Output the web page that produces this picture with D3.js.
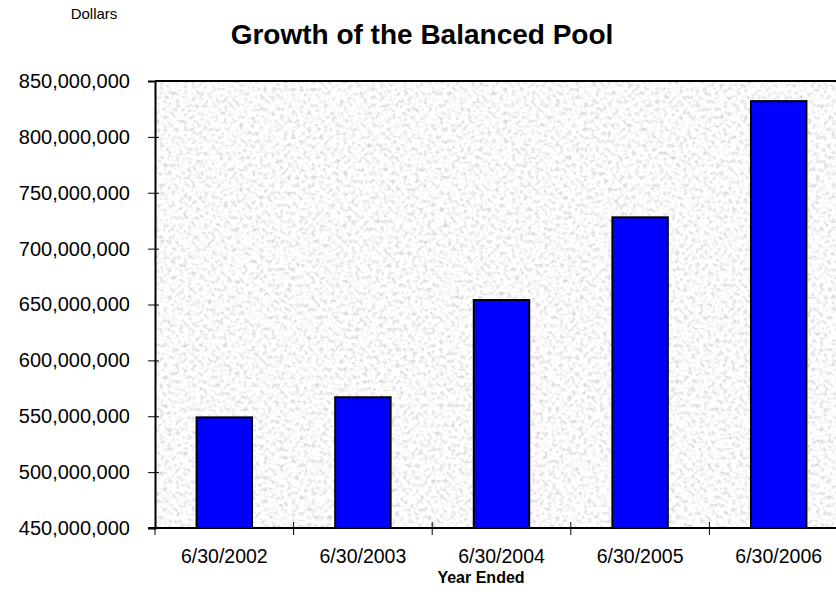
<!DOCTYPE html>
<html>
<head>
<meta charset="utf-8">
<script src="https://d3js.org/d3.v7.min.js"></script>
<style>
  body { margin: 0; background: #fff; }
  svg { display: block; font-family: Arial, "Liberation Sans", sans-serif; }
</style>
</head>
<body>
<script>
// values
const years = ['6/30/2002', '6/30/2003', '6/30/2004', '6/30/2005', '6/30/2006'];
const poolValues = [549000000, 567000000, 654000000, 728000000, 832000000];
const yTicks = [450000000, 500000000, 550000000, 600000000, 650000000, 700000000, 750000000, 800000000, 850000000];

const config = {
  width: 836,
  height: 604,
  plot: { left: 155, top: 81, right: 848, bottom: 528 },
};

function main() {
  const svg = d3.select('body').append('svg')
    .attr('width', config.width)
    .attr('height', config.height);

  const p = config.plot;

  // granite-ish background texture
  const defs = svg.append('defs');
  const filter = defs.append('filter')
    .attr('id', 'granite')
    .attr('x', 0).attr('y', 0).attr('width', 1).attr('height', 1);
  filter.append('feTurbulence')
    .attr('type', 'fractalNoise')
    .attr('baseFrequency', 0.25)
    .attr('numOctaves', 3)
    .attr('seed', 7)
    .attr('result', 'noise');
  filter.append('feColorMatrix')
    .attr('in', 'noise')
    .attr('type', 'matrix')
    .attr('values', '0.85 0 0 0 0.53  0.85 0 0 0 0.53  0.85 0 0 0 0.53  0 0 0 0 1');

  svg.append('rect')
    .attr('x', p.left).attr('y', p.top)
    .attr('width', p.right - p.left).attr('height', p.bottom - p.top)
    .attr('fill', '#ededed');
  svg.append('rect')
    .attr('x', p.left).attr('y', p.top)
    .attr('width', p.right - p.left).attr('height', p.bottom - p.top)
    .attr('filter', 'url(#granite)');

  const x = d3.scaleBand()
    .domain(years)
    .range([p.left, p.right])
    .paddingInner(0.6)
    .paddingOuter(0.3);

  const y = d3.scaleLinear()
    .domain([450000000, 850000000])
    .range([p.bottom, p.top]);

  // bars
  svg.append('g')
    .selectAll('rect')
    .data(poolValues)
    .join('rect')
    .attr('x', (d, i) => x(years[i]))
    .attr('y', d => y(d))
    .attr('width', x.bandwidth())
    .attr('height', d => y(450000000) - y(d))
    .attr('fill', '#0000ff')
    .attr('stroke', '#000')
    .attr('stroke-width', 2);

  // top frame line
  svg.append('line')
    .attr('x1', p.left).attr('x2', p.right)
    .attr('y1', p.top).attr('y2', p.top)
    .attr('stroke', '#000').attr('stroke-width', 2);

  // y axis
  const yAxis = svg.append('g')
    .attr('transform', `translate(${p.left},0)`)
    .call(d3.axisLeft(y).tickValues(yTicks).tickFormat(d3.format(',')).tickSize(7).tickPadding(18));
  yAxis.select('.domain').attr('stroke', '#000').attr('stroke-width', 2);
  yAxis.selectAll('.tick line').attr('x1', 4).attr('stroke', '#000');
  yAxis.selectAll('.tick text')
    .attr('font-size', 20)
    .attr('fill', '#000')
    .style('font-family', 'Arial, "Liberation Sans", sans-serif');

  // x axis: labels centred on bars, ticks on band boundaries
  const xAxis = svg.append('g')
    .attr('transform', `translate(0,${p.bottom})`)
    .call(d3.axisBottom(x).tickSize(0).tickPadding(21));
  xAxis.select('.domain').remove();
  xAxis.selectAll('.tick text')
    .attr('font-size', 19.5)
    .attr('fill', '#000')
    .style('font-family', 'Arial, "Liberation Sans", sans-serif');

  const bounds = d3.range(years.length + 1).map(i => p.left + i * x.step());
  svg.append('g')
    .selectAll('line')
    .data(bounds)
    .join('line')
    .attr('x1', d => d).attr('x2', d => d)
    .attr('y1', (d, i) => (i === 0 ? p.bottom : p.bottom - 6))
    .attr('y2', p.bottom + 7)
    .attr('stroke', '#000');

  svg.append('line')
    .attr('x1', p.left - 7).attr('x2', p.right)
    .attr('y1', p.bottom).attr('y2', p.bottom)
    .attr('stroke', '#000').attr('stroke-width', 2);

  // texts
  svg.append('text')
    .attr('x', 422)
    .attr('y', 44)
    .attr('text-anchor', 'middle')
    .attr('font-size', 28)
    .attr('font-weight', 'bold')
    .text('Growth of the Balanced Pool');

  svg.append('text')
    .attr('x', 94)
    .attr('y', 19)
    .attr('text-anchor', 'middle')
    .attr('font-size', 15)
    .text('Dollars');

  svg.append('text')
    .attr('x', 481)
    .attr('y', 583)
    .attr('text-anchor', 'middle')
    .attr('font-size', 16)
    .attr('font-weight', 'bold')
    .text('Year Ended');
}

main();
</script>
</body>
</html>
